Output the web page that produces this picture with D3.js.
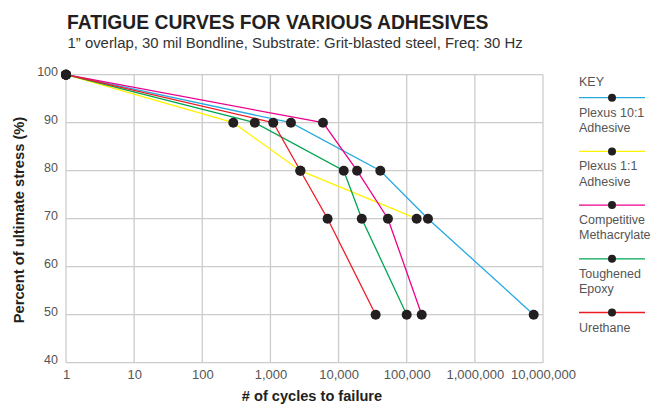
<!DOCTYPE html>
<html>
<head>
<meta charset="utf-8">
<script src="https://cdn.jsdelivr.net/npm/d3@7"></script>
<style>
	body { margin: 0; background: #fff; }
	svg { display: block; font-family: "Liberation Sans", Arial, sans-serif; }
	.tick text { fill: #555; }
</style>
</head>
<body>
<svg id="chart" width="652" height="405"></svg>
<script>
// series (cycles to failure at each stress level)
const seriesNames = ['Plexus 10:1 Adhesive', 'Plexus 1:1 Adhesive', 'Competitive Methacrylate', 'Toughened Epoxy', 'Urethane'];
const seriesLabels = [['Plexus 10:1', 'Adhesive'], ['Plexus 1:1', 'Adhesive'], ['Competitive', 'Methacrylate'], ['Toughened', 'Epoxy'], ['Urethane']];
const seriesColours = ['#27aae1', '#fff200', '#ec008c', '#00a651', '#ed1c24'];

const plexus101Stress = [100, 90, 80, 70, 50];
const plexus101Cycles = [1, 2000, 41000, 205000, 7300000];

const plexus11Stress = [100, 90, 80, 70];
const plexus11Cycles = [1, 285, 2750, 140000];

const competitiveStress = [100, 90, 80, 70, 50];
const competitiveCycles = [1, 5900, 18700, 53000, 166000];

const epoxyStress = [100, 90, 80, 70, 50];
const epoxyCycles = [1, 590, 11900, 21900, 100000];

const urethaneStress = [100, 90, 80, 70, 50];
const urethaneCycles = [1, 1100, 2750, 6900, 35000];

const xTicks = [1, 10, 100, 1000, 10000, 100000, 1000000, 10000000];
const yTicks = [40, 50, 60, 70, 80, 90, 100];

const stressSets = [plexus101Stress, plexus11Stress, competitiveStress, epoxyStress, urethaneStress];
const cycleSets = [plexus101Cycles, plexus11Cycles, competitiveCycles, epoxyCycles, urethaneCycles];

const series = seriesNames.map((name, i) => ({
	name,
	colour: seriesColours[i],
	label: seriesLabels[i],
	points: cycleSets[i].map((c, j) => ({ cycles: c, stress: stressSets[i][j] }))
}));

const svg = d3.select('#chart');

const margin = { left: 66, right: 109, top: 74.7, bottom: 42.3 };
const width = 652 - margin.left - margin.right;
const height = 405 - margin.top - margin.bottom;

const x = d3.scaleLog().domain([1, 10000000]).range([0, width]);
const y = d3.scaleLinear().domain([40, 100]).range([height, 0]);

// titles
svg.append('text')
	.attr('x', 67).attr('y', 28.5)
	.style('font-weight', 'bold').style('font-size', '19.3px').style('fill', '#231f20')
	.text('FATIGUE CURVES FOR VARIOUS ADHESIVES');

svg.append('text')
	.attr('x', 67.5).attr('y', 47.5)
	.style('font-size', '14.9px').style('fill', '#333')
	.text('1\u201D overlap, 30 mil Bondline, Substrate: Grit-blasted steel, Freq: 30 Hz');

const g = svg.append('g').attr('transform', `translate(${margin.left},${margin.top})`);

// grid
g.append('g')
	.selectAll('line.v')
	.data(xTicks)
	.enter()
	.append('line')
	.attr('x1', d => x(d)).attr('x2', d => x(d))
	.attr('y1', 0).attr('y2', height)
	.style('stroke', '#cccccc').style('stroke-width', 1.3);

g.append('g')
	.selectAll('line.h')
	.data(yTicks)
	.enter()
	.append('line')
	.attr('x1', 0).attr('x2', width)
	.attr('y1', d => y(d)).attr('y2', d => y(d))
	.style('stroke', '#cccccc').style('stroke-width', 1.3);

// axes
const xAxis = g.append('g')
	.attr('transform', `translate(0,${height})`)
	.call(d3.axisBottom(x).tickValues(xTicks).tickFormat(d3.format(',')).tickSize(0).tickPadding(7));
xAxis.select('.domain').remove();
xAxis.selectAll('.tick text').style('font-size', '13px');

const yAxis = g.append('g')
	.call(d3.axisLeft(y).tickValues(yTicks).tickSize(0).tickPadding(8));
yAxis.select('.domain').remove();
yAxis.selectAll('.tick text').attr('dy', '0.1em').style('font-size', '12.5px');

svg.append('text')
	.attr('x', 312).attr('y', 401)
	.attr('text-anchor', 'middle')
	.style('font-weight', 'bold').style('font-size', '14.6px').style('fill', '#231f20')
	.text('# of cycles to failure');

svg.append('text')
	.attr('transform', `translate(24,220) rotate(-90)`)
	.attr('text-anchor', 'middle')
	.style('font-weight', 'bold').style('font-size', '14.7px').style('fill', '#231f20')
	.text('Percent of ultimate stress (%)');

// lines
const line = d3.line()
	.x(d => x(d.cycles))
	.y(d => y(d.stress));

g.append('g')
	.selectAll('path')
	.data(series)
	.enter()
	.append('path')
	.attr('d', d => line(d.points))
	.style('fill', 'none')
	.style('stroke', d => d.colour)
	.style('stroke-width', 1.3);

g.append('g')
	.selectAll('g')
	.data(series)
	.enter()
	.append('g')
	.selectAll('circle')
	.data(d => d.points)
	.enter()
	.append('circle')
	.attr('cx', d => x(d.cycles))
	.attr('cy', d => y(d.stress))
	.attr('r', 5)
	.style('fill', '#231f20');

// legend
const legend = svg.append('g').attr('transform', 'translate(579,0)');

legend.append('text')
	.attr('x', 0).attr('y', 86)
	.style('font-size', '12.5px').style('fill', '#555')
	.text('KEY');

const item = legend.selectAll('g.item')
	.data(series)
	.enter()
	.append('g')
	.attr('transform', (d, i) => `translate(0,${97.7 + i * 53.7})`);

item.append('line')
	.attr('x1', 0).attr('x2', 66)
	.style('stroke', d => d.colour).style('stroke-width', 1.3);

item.append('circle')
	.attr('cx', 33).attr('r', 4)
	.style('fill', '#231f20');

item.selectAll('text')
	.data(d => d.label)
	.enter()
	.append('text')
	.attr('x', 0)
	.attr('y', (d, i) => 19 + i * 15.4)
	.style('font-size', '12.5px').style('fill', '#555')
	.text(d => d);
</script>
</body>
</html>
